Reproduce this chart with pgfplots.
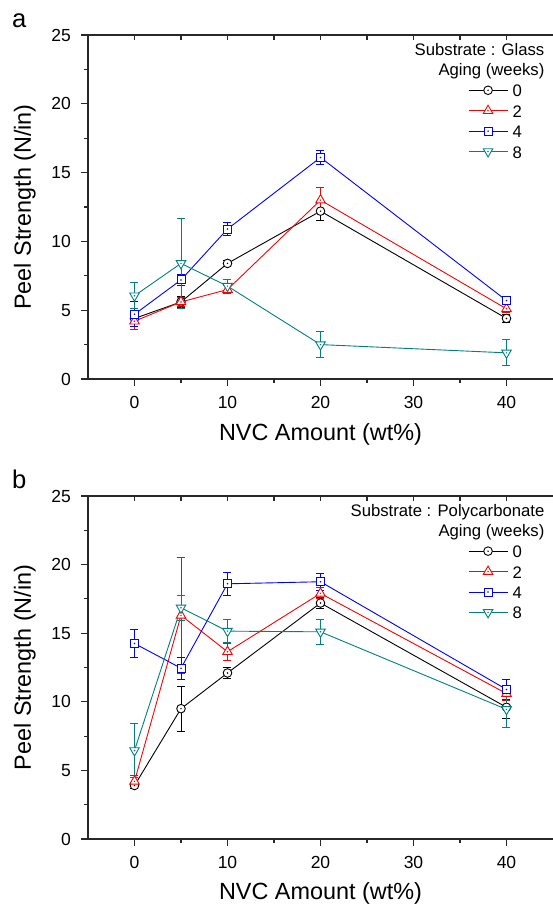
\documentclass[border=0pt]{standalone}
\usepackage{pgfplots}
\pgfplotsset{compat=1.18}
\usepackage{fontspec}
\setmainfont{Liberation Sans}
\definecolor{cteal}{RGB}{0,128,128}
\definecolor{axgray}{RGB}{40,40,40}
\newcommand\tickfont{\fontsize{17.5}{20}\selectfont}
\newcommand\labfont{\fontsize{23.4}{28}\selectfont}
\newcommand\legfont{\fontsize{16.7}{20}\selectfont}
\newcommand\panfont{\fontsize{25.6}{30}\selectfont}

\pgfdeclareplotmark{ocirc}{%
  \pgfpathcircle{\pgfpointorigin}{\pgfplotmarksize}\pgfusepathqfillstroke
  \pgfpathcircle{\pgfpointorigin}{0.2pt}\pgfusepathqstroke}
\pgfdeclareplotmark{osq}{%
  \pgfpathrectangle{\pgfpoint{-\pgfplotmarksize}{-\pgfplotmarksize}}{\pgfpoint{2\pgfplotmarksize}{2\pgfplotmarksize}}\pgfusepathqfillstroke
  \pgfpathcircle{\pgfpointorigin}{0.2pt}\pgfusepathqstroke}
\pgfdeclareplotmark{otri}{%
  \pgfpathmoveto{\pgfqpointpolar{90}{\pgfplotmarksize}}%
  \pgfpathlineto{\pgfqpointpolar{210}{\pgfplotmarksize}}%
  \pgfpathlineto{\pgfqpointpolar{330}{\pgfplotmarksize}}%
  \pgfpathclose\pgfusepathqfillstroke
  \pgfpathcircle{\pgfpointorigin}{0.2pt}\pgfusepathqstroke}
\pgfdeclareplotmark{odtri}{%
  \pgfpathmoveto{\pgfqpointpolar{270}{\pgfplotmarksize}}%
  \pgfpathlineto{\pgfqpointpolar{30}{\pgfplotmarksize}}%
  \pgfpathlineto{\pgfqpointpolar{150}{\pgfplotmarksize}}%
  \pgfpathclose\pgfusepathqfillstroke
  \pgfpathcircle{\pgfpointorigin}{0.2pt}\pgfusepathqstroke}

\pgfplotsset{
  peel/.style={
    scale only axis, width=465pt,
    xmin=-5, xmax=45, ymin=0, ymax=25,
    axis x line*=bottom, axis y line*=left,
    axis line style={axgray, line width=1.3pt},
    tick style={axgray, line width=1.1pt},
    tick align=outside,
    major tick length=7pt, minor tick length=4pt,
    xtick={0,10,20,30,40}, minor xtick={5,15,25,35},
    ytick={0,5,10,15,20,25}, minor ytick={2.5,7.5,12.5,17.5,22.5},
    /pgf/number format/assume math mode=true,
    tick label style={font=\tickfont},
    xticklabel style={anchor=north, inner sep=0pt, text height=12.5pt, text depth=0pt, yshift=-10pt},
    yticklabel style={anchor=east, inner sep=0pt, xshift=-10pt},
    xlabel={NVC Amount (wt\%)},
    ylabel={Peel Strength (N/in)},
    label style={font=\labfont},
    xlabel style={at={(axis description cs:0.5,0)}, anchor=base, yshift=-62pt},
    ylabel style={at={(axis description cs:-0.1226,0.5)}, anchor=base},
    error bars/y dir=both, error bars/y explicit,
    error bars/error bar style={line width=0.9pt, solid},
    error bars/error mark options={rotate=90, line width=0.9pt, mark size=4pt},
    legend style={draw=none, fill=none, inner sep=0pt, font=\legfont,
      anchor=north west, row sep=4.3pt, column sep=3pt,
      nodes={inner sep=1.5pt}},
    legend cell align=left,
    legend image code/.code={%
      \draw[mark repeat=2, mark phase=2, #1] plot coordinates {(0pt,1.5pt) (19.5pt,1.5pt) (39pt,1.5pt)};},
  },
  s0/.style={black, line width=0.9pt, mark=ocirc, mark size=4.3pt, mark options={solid, fill=white, line width=0.9pt}},
  s2/.style={red, line width=0.9pt, mark=otri, mark size=5.5pt, mark options={solid, fill=white, line width=0.9pt}},
  s4/.style={blue, line width=0.9pt, mark=osq, mark size=4pt, mark options={solid, fill=white, line width=0.9pt}},
  s8/.style={cteal, line width=0.9pt, mark=odtri, mark size=5.5pt, mark options={solid, fill=white, line width=0.9pt}},
  topax/.style={
    scale only axis, width=465pt,
    xmin=-5, xmax=45, ymin=0, ymax=25,
    axis x line*=top, axis y line=none,
    axis line style={axgray, line width=1.3pt},
    tick style={axgray, line width=1.1pt},
    tick align=inside, major tick length=5pt,
    xtick={0,5,...,40}, xticklabels={},
  },
}

\begin{document}
\begin{tikzpicture}
\path[use as bounding box] (0,0) rectangle (553pt,906pt);

% ---------- panel a ----------
\begin{axis}[peel, height=344pt, at={(88pt,527pt)}, anchor=south west,
  legend style={at={(axis description cs:0.817,0.859)}}]
\addplot[s0] coordinates {(0,4.4) +- (0,0.3) (5,5.6) +- (0,0.4) (10,8.4) +- (0,0.2) (20,12.2) +- (0,0.65) (40,4.4) +- (0,0.3)};
\addplot[s2] coordinates {(0,4.2) +- (0,0.6) (5,5.6) +- (0,0.3) (10,6.5) +- (0,0.3) (20,13.0) +- (0,0.95) (40,5.1) +- (0,0.3)};
\addplot[s4] coordinates {(0,4.7) +- (0,0.9) (5,7.2) +- (0,0.4) (10,10.9) +- (0,0.5) (20,16.1) +- (0,0.5) (40,5.7) +- (0,0.2)};
\addplot[s8] coordinates {(0,6.05) +- (0,0.95) (5,8.4) +- (0,3.3) (10,6.75) +- (0,0.45) (20,2.5) +- (0,0.95) (40,1.9) +- (0,0.95)};
\legend{0,2,4,8}
\node[anchor=base east, font=\legfont] at (axis description cs:0.989,0.939) {Substrate : Glass};
\node[anchor=base east, font=\legfont] at (axis description cs:0.989,0.881) {Aging (weeks)};
\end{axis}
\begin{axis}[topax, height=344pt, at={(88pt,527pt)}, anchor=south west]
\end{axis}

% ---------- panel b ----------
\begin{axis}[peel, height=343pt, at={(88pt,67pt)}, anchor=south west,
  legend style={at={(axis description cs:0.817,0.859)}},
  xlabel style={yshift=2pt}]
\addplot[s0] coordinates {(0,3.9) +- (0,0.2) (5,9.5) +- (0,1.65) (10,12.1) +- (0,0.4) (20,17.2) +- (0,0.4) (40,9.6) +- (0,0.8)};
\addplot[s2] coordinates {(0,4.2) +- (0,0.4) (5,16.3) +- (0,4.25) (10,13.65) +- (0,0.6) (20,17.9) +- (0,0.4) (40,10.6) +- (0,0.5)};
\addplot[s4] coordinates {(0,14.25) +- (0,1.0) (5,12.45) +- (0,0.8) (10,18.6) +- (0,0.85) (20,18.75) +- (0,0.6) (40,10.9) +- (0,0.7)};
\addplot[s8] coordinates {(0,6.45) +- (0,2.0) (5,16.85) +- (0,0.9) (10,15.15) +- (0,0.85) (20,15.1) +- (0,0.9) (40,9.45) +- (0,1.35)};
\legend{0,2,4,8}
\node[anchor=base east, font=\legfont] at (axis description cs:0.989,0.939) {Substrate : Polycarbonate};
\node[anchor=base east, font=\legfont] at (axis description cs:0.989,0.881) {Aging (weeks)};
\end{axis}
\begin{axis}[topax, height=343pt, at={(88pt,67pt)}, anchor=south west]
\end{axis}

\node[anchor=base west, font=\panfont, inner sep=0pt] at (12pt,878pt) {a};
\node[anchor=base west, font=\panfont, inner sep=0pt] at (12pt,417pt) {b};
\end{tikzpicture}
\end{document}
